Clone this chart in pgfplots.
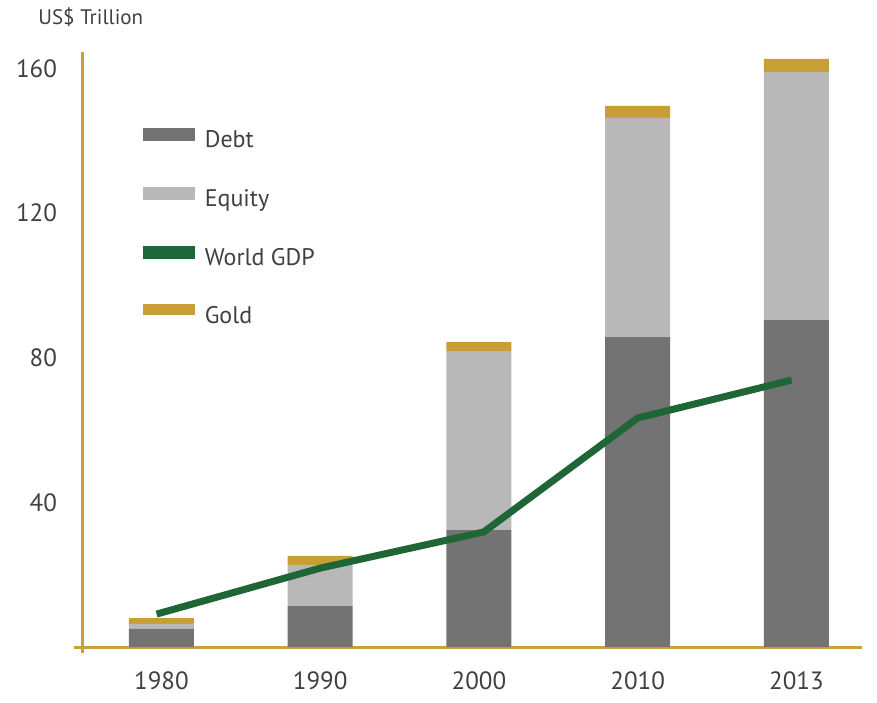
\documentclass[border=0pt]{standalone}
\usepackage{pgfplots}
\pgfplotsset{compat=1.18}
\usepackage{fontspec}
\setmainfont{PT Sans}
\definecolor{debtc}{HTML}{737373}
\definecolor{equityc}{HTML}{B8B8B8}
\definecolor{goldc}{HTML}{C99E37}
\definecolor{gdpc}{HTML}{1E6636}
\definecolor{axisc}{HTML}{C9A03C}
\definecolor{txt}{HTML}{404040}
\begin{document}
\begin{tikzpicture}
\path[use as bounding box] (-41pt,-27.5pt) rectangle (397.5pt,323.5pt);
\begin{axis}[
  at={(0,0)}, anchor=south west,
  scale only axis, width=390pt, height=297.5pt,
  xmin=-0.5, xmax=4.413, ymin=0, ymax=164.5,
  axis x line=bottom, axis y line=left,
  axis line style={axisc, line width=1.5pt, -},
  xtick={0,1,2,3,4}, xticklabels={1980,1990,2000,2010,2013},
  ytick={40,80,120,160},
  major tick length=0pt,
  tick style={draw=none},
  /pgf/number format/assume math mode=true,
  ticklabel style={font=\fontsize{12.5}{14}\selectfont, text=txt},
  xticklabel style={yshift=-9pt},
  yticklabel style={xshift=-9pt},
  ybar stacked, bar width=32.5pt,
  clip=false,
  legend cell align=left,
  legend style={draw=none, fill=none, at={(0.07,0.88)}, anchor=north west,
    font=\fontsize{12}{14}\selectfont, text=txt, row sep=19.5pt,
    nodes={inner sep=0pt, text height=8.5pt, text depth=0pt}},
]
\addplot[fill=debtc, draw=none, forget plot] coordinates {(0,5.0) (1,11.3) (2,32.3) (3,85.7) (4,90.4)};
\addplot[fill=equityc, draw=none, forget plot] coordinates {(0,1.4) (1,11.4) (2,49.5) (3,60.6) (4,68.6)};
\addplot[fill=goldc, draw=none, forget plot] coordinates {(0,1.6) (1,2.5) (2,2.5) (3,3.3) (4,3.6)};
\addlegendimage{legend image code/.code={\fill[debtc] (0pt,-0.5pt) rectangle (25.5pt,5.5pt);}}
\addlegendentry{\hspace{5pt}Debt}
\addlegendimage{legend image code/.code={\fill[equityc] (0pt,-0.5pt) rectangle (25.5pt,5.5pt);}}
\addlegendentry{\hspace{5pt}Equity}
\addlegendimage{legend image code/.code={\fill[gdpc] (0pt,-0.5pt) rectangle (25.5pt,5.5pt);}}
\addlegendentry{\hspace{5pt}World GDP}
\addlegendimage{legend image code/.code={\fill[goldc] (0pt,0pt) rectangle (25.5pt,5pt);}}
\addlegendentry{\hspace{5pt}Gold}
\draw[axisc, line width=1.5pt] (axis cs:-0.5,0) -- ++(-4pt,0pt);
\draw[axisc, line width=1.5pt] (axis cs:-0.5,0) -- ++(0pt,-3pt);
\end{axis}
\begin{axis}[
  at={(0,0)}, anchor=south west,
  scale only axis, width=390pt, height=297.5pt,
  xmin=-0.5, xmax=4.413, ymin=0, ymax=164.5,
  hide axis, clip=false,
]
\addplot[sharp plot, gdpc, line width=3.5pt] coordinates {(-0.03,9.1) (1,21.8) (2.03,31.8) (3,63.3) (3.97,73.8)};
\end{axis}
\node[anchor=base west, text=txt, font=\fontsize{10.5}{12}\selectfont, inner sep=0pt] at (-22pt,311pt) {US\$ Trillion};
\end{tikzpicture}
\end{document}
